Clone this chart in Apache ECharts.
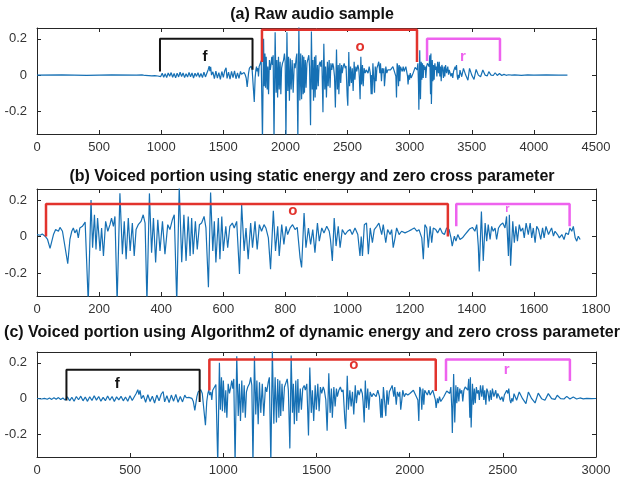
<!DOCTYPE html>
<html>
<head>
<meta charset="utf-8">
<title>Voiced portion detection</title>
<script src="https://cdn.jsdelivr.net/npm/echarts@6/dist/echarts.min.js"></script>
<style>
  html, body { margin: 0; padding: 0; background: #fff; }
  #main { width: 624px; height: 484px; }
</style>
</head>
<body>
<div id="main"></div>
<script>
// raw audio sample (a) as [sample index, amplitude]
const silenceLead = [[0,0],[200,0.001],[400,-0.001],[600,0.001],[800,0],[845,0.001],[870,-0.002],[885,0.002],[900,-0.003],[912,0.004],[924,-0.004],[936,0.005],[948,-0.003],[960,0.006],[972,-0.005],[984,0.004],[996,-0.008]];
const fricativeF = [[1008,0.01],[1020,-0.012],[1032,0.008],[1044,-0.014],[1056,0.012],[1068,-0.006],[1080,0.014],[1092,-0.012],[1104,0.009],[1116,-0.015],[1128,0.011],[1140,-0.01],[1152,0.016],[1164,-0.008],[1176,0.012],[1188,-0.014],[1200,0.007],[1212,-0.011],[1224,0.015],[1236,-0.009],[1248,0.012],[1260,-0.016],[1272,0.01],[1284,-0.007],[1296,0.013],[1308,-0.012],[1320,0.009],[1332,-0.014],[1344,0.016],[1356,-0.01],[1368,0.012],[1378,0.03],[1386,0.05],[1392,0.022],[1398,0.046],[1405,0.0],[1416,0.018],[1428,-0.02],[1440,0.022],[1452,-0.016],[1464,0.014],[1476,-0.024],[1488,0.02],[1500,-0.012],[1512,0.026],[1522,0.04],[1530,-0.018],[1542,0.016],[1554,-0.022],[1566,0.02],[1578,-0.014],[1590,0.024],[1602,-0.02],[1614,0.012],[1626,-0.018],[1638,0.02],[1646,0.005]];
const vowelO = [[1650,0.011],[1660,0.007],[1667,0.014],[1676,0.002],[1684,-0.016],[1692,-0.065],[1703,0.011],[1710,0.038],[1719,0.029],[1724,0.05],[1732,0.029],[1738,0.02],[1749,-0.148],[1756,-0.016],[1762,0.029],[1767,0.047],[1772,0.02],[1778,0.038],[1783,-0.007],[1788,0.047],[1796,0.056],[1805,0.079],[1810,0.086],[1815,-0.36],[1824,0.2],[1829,-0.061],[1835,0.119],[1840,-0.07],[1845,0.101],[1853,-0.079],[1858,0.047],[1864,-0.106],[1871,0.083],[1878,0.029],[1885,0.065],[1890,0.101],[1896,0.056],[1901,0.11],[1908,-0.36],[1917,0.236],[1925,-0.097],[1931,0.083],[1937,-0.124],[1944,0.101],[1950,-0.079],[1957,0.074],[1963,-0.106],[1969,0.038],[1976,0.065],[1985,0.083],[1992,0.119],[1998,0.074],[2004,-0.36],[2012,0.236],[2019,-0.088],[2025,0.101],[2032,-0.142],[2039,0.092],[2046,-0.079],[2054,0.083],[2062,-0.097],[2071,0.065],[2078,0.038],[2086,0.092],[2092,0.119],[2100,-0.36],[2108,0.27],
  [2116,-0.14],[2123,0.119],[2130,-0.133],[2137,0.11],[2143,-0.106],[2148,0.101],[2153,-0.097],[2160,0.083],[2166,-0.07],[2173,0.065],[2180,0.074],[2188,0.11],[2194,0.047],[2202,-0.277],[2209,0.241],[2216,-0.079],[2221,0.083],[2226,-0.142],[2234,0.101],[2239,-0.124],[2245,0.11],[2250,-0.079],[2258,0.056],[2264,-0.061],[2271,0.056],[2279,0.074],[2285,0.047],[2293,0.083],[2302,-0.205],[2309,0.173],[2317,-0.079],[2323,0.047],[2330,-0.124],[2338,0.074],[2344,-0.061],[2352,0.083],[2359,-0.07],[2366,0.065],[2373,0.029],[2381,0.065],[2387,0.047],[2395,-0.007],[2402,-0.178],[2411,0.141],[2418,-0.079],[2425,0.056],[2430,-0.106],[2438,0.065],[2445,-0.043],[2452,0.056],[2457,0.011],[2465,0.047],[2473,0.065],[2481,0.038],[2488,0.05],[2497,-0.115],[2502,-0.169],[2510,0.128],[2516,-0.061],[2524,0.047],[2531,-0.043],[2538,0.038],[2545,-0.088],[2553,0.074],[2559,-0.025],[2567,0.047],[2574,0.02],[2583,0.056],[2591,0.029],
  [2595,-0.016],[2601,-0.133],[2607,0.101],[2613,-0.052],[2620,0.056],[2626,-0.061],[2633,0.038],[2642,0.011],[2650,0.029],[2658,0.038],[2665,0.011],[2674,0.047],[2683,0.011],[2690,-0.106],[2694,0.0],[2698,-0.106],[2704,0.065],[2711,0.074],[2717,-0.097],[2723,0.047],[2730,-0.034],[2736,0.038],[2744,0.056],[2751,0.074],[2760,0.011],[2765,0.065],[2773,-0.034],[2779,0.038],[2787,0.011],[2792,0.038],[2797,-0.061],[2803,-0.007],[2808,0.047],[2816,0.011],[2824,0.029],[2835,0.02],[2846,0.029],[2856,0.038],[2865,0.047],[2873,0.029],[2880,0.038],[2889,-0.007],[2894,-0.124],[2899,0.065],[2905,0.047],[2910,-0.061],[2916,0.056],[2921,-0.034],[2926,0.047],[2934,0.038],[2940,0.02],[2948,0.047],[2955,0.02],[2962,0.011],[2969,0.047],[2977,0.038],[2983,-0.007],[2987,-0.052],[2994,0.002],[2999,-0.025],[3005,0.011],[3012,-0.016],[3020,-0.007],[3028,0.011],[3037,0.029],[3044,0.043],[3052,0.05]];
const rhoticR = [[3060,0.029],[3066,0.065],[3071,-0.052],[3074,-0.191],[3081,0.137],[3087,-0.133],[3093,0.074],[3098,-0.025],[3103,0.065],[3109,-0.016],[3114,0.056],[3119,0.029],[3125,0.047],[3130,-0.016],[3136,0.047],[3143,0.065],[3150,0.074],[3157,0.047],[3162,0.11],[3168,-0.106],[3171,0.119],[3175,-0.16],[3182,0.083],[3187,-0.034],[3192,0.056],[3197,-0.025],[3203,0.065],[3208,0.029],[3214,0.047],[3219,-0.007],[3225,0.074],[3232,0.011],[3238,0.074],[3243,-0.007],[3248,0.047],[3254,-0.034],[3259,0.056],[3265,0.038],[3272,-0.016],[3278,0.047],[3283,-0.007],[3289,0.056],[3297,0.011],[3302,0.029],[3307,0.047],[3313,0.002],[3318,0.029],[3326,0.011],[3332,-0.007],[3340,0.011],[3347,-0.016],[3353,0.02],[3361,0.011],[3366,0.047],[3372,0.029],[3377,0.056],[3383,-0.007],[3388,-0.025],[3393,0.002],[3399,-0.016]];
const decayTail = [[3405,0.028],[3419,-0.009],[3433,0.037],[3451,0.0],[3469,-0.028],[3482,0.037],[3500,0.0],[3518,-0.024],[3535,0.031],[3553,0.0],[3571,-0.009],[3589,0.028],[3607,0.0],[3625,-0.004],[3637,0.019],[3655,0.0],[3673,-0.002],[3688,0.013],[3705,-0.002],[3723,0.009],[3741,-0.002],[3759,0.004],[3777,-0.001],[3795,0.002],[3822,0.0],[3845,0.001],[3860,0.002],[3900,-0.001],[3950,0.001],[4000,0],[4100,0.001],[4200,0],[4270,0]];

// where panels (b) and (c) start / end in the raw sample
const voicedStart = 1650, voicedEnd = 3400;
const trimStart = 845, trimEnd = 3845;

const titles = [
  '(a) Raw audio sample',
  '(b) Voiced portion using static energy and zero cross parameter',
  '(c) Voiced portion using Algorithm2 of dynamic energy and zero cross parameter'
];
const xMax = [4500, 1800, 3000];
const xStep = [500, 200, 500];
const yTicks = [-0.2, 0, 0.2];

// brackets: [label, x from, x to, top, left foot, right foot, label x, label y]
const bracketsA = [['f', 990, 1735, 0.2, 0.02, 0.03, 1352, 0.1], ['o', 1811, 3059, 0.25, 0.073, 0.073, 2600, 0.156], ['r', 3140, 3727, 0.2, 0.078, 0.078, 3429, 0.1]];
const bracketsB = [['o', 29, 1323, 0.178, 0.0, 0.0, 824, 0.14], ['r', 1350, 1715, 0.178, 0.056, 0.056, 1515, 0.15]];
const bracketsC = [['f', 158, 873, 0.161, -0.01, -0.018, 430, 0.08], ['o', 925, 2140, 0.218, 0.046, 0.043, 1701, 0.19], ['r', 2195, 2860, 0.218, 0.098, 0.098, 2520, 0.158]];

var dom = document.getElementById('main');
var myChart = echarts.init(dom, null, { renderer: 'canvas' });

const waveColor = '#1670b4';
const axisColor = '#262626';
const bracketColor = { f: '#141414', o: '#e2332d', r: '#ee62ee' };
const font = 'Liberation Sans, Arial, sans-serif';

const rawSample = [].concat(silenceLead, fricativeF, vowelO, rhoticR, decayTail);

function cut(points, from, to) {
  return points.filter(p => p[0] >= from && p[0] <= to).map(p => [p[0] - from, p[1]]);
}

const waves = [rawSample, cut(rawSample, voicedStart, voicedEnd), cut(rawSample, trimStart, trimEnd)];
const brackets = [bracketsA, bracketsB, bracketsC];
const gridTop = [28, 189, 352];
const gridHeight = [106, 107, 105];
const titleTop = [7, 169, 325];

var option = {
  animation: false,
  backgroundColor: '#fff',
  title: [],
  grid: [],
  xAxis: [],
  yAxis: [],
  series: []
};

for (let i = 0; i < 3; i++) {
  option.title.push({
    text: titles[i],
    left: 'center',
    top: titleTop[i],
    padding: 0,
    textStyle: { fontFamily: font, fontSize: 16, fontWeight: 'bold', color: '#111' }
  });
  option.grid.push({ left: 37, right: 28, top: gridTop[i], height: gridHeight[i] });

  // bottom and top x axes (box with ticks on both sides)
  [false, true].forEach(function (top) {
    option.xAxis.push({
      type: 'value', gridIndex: i, min: 0, max: xMax[i], interval: xStep[i],
      position: top ? 'top' : 'bottom',
      axisLine: { show: true, onZero: false, lineStyle: { color: axisColor, width: 1 } },
      axisTick: { show: true, inside: true, length: 4, lineStyle: { color: axisColor } },
      axisLabel: { show: !top, margin: 7, color: '#333', fontFamily: font, fontSize: 13,
        formatter: function (v) { return String(v); } },
      splitLine: { show: false }
    });
  });
  [false, true].forEach(function (right) {
    option.yAxis.push({
      type: 'value', gridIndex: i, min: -0.325, max: 0.26,
      position: right ? 'right' : 'left',
      axisLine: { show: true, onZero: false, lineStyle: { color: axisColor, width: 1 } },
      axisTick: { show: true, inside: true, length: 4, customValues: yTicks, lineStyle: { color: axisColor } },
      axisLabel: { show: !right, margin: 10, color: '#333', fontFamily: font, fontSize: 13, customValues: yTicks,
        formatter: function (v) { return Math.abs(v) < 1e-9 ? '0' : String(v); } },
      splitLine: { show: false }
    });
  });

  option.series.push({
    type: 'line', xAxisIndex: i * 2, yAxisIndex: i * 2,
    data: waves[i], showSymbol: false, symbol: 'none',
    lineStyle: { color: waveColor, width: 1.2 }, z: 2
  });

  brackets[i].forEach(function (b) {
    const c = bracketColor[b[0]];
    option.series.push({
      type: 'line', xAxisIndex: i * 2, yAxisIndex: i * 2,
      data: [[b[1], b[4]], [b[1], b[3]], [b[2], b[3]], [b[2], b[5]]],
      showSymbol: false, symbol: 'none', clip: false,
      lineStyle: { color: c, width: b[0] === 'f' ? 2 : 2.5 }, z: 3
    });
    option.series.push({
      type: 'scatter', xAxisIndex: i * 2, yAxisIndex: i * 2,
      data: [[b[6], b[7]]], symbolSize: 1, itemStyle: { color: 'transparent', opacity: 1 },
      label: { show: true, position: 'inside', formatter: b[0], color: c, opacity: 1,
        fontFamily: font, fontWeight: 'bold', fontSize: (i === 1 && b[0] === 'r') ? 11 : 15 },
      z: 4
    });
  });
}

myChart.setOption(option);
window.addEventListener('resize', myChart.resize);
</script>
</body>
</html>
